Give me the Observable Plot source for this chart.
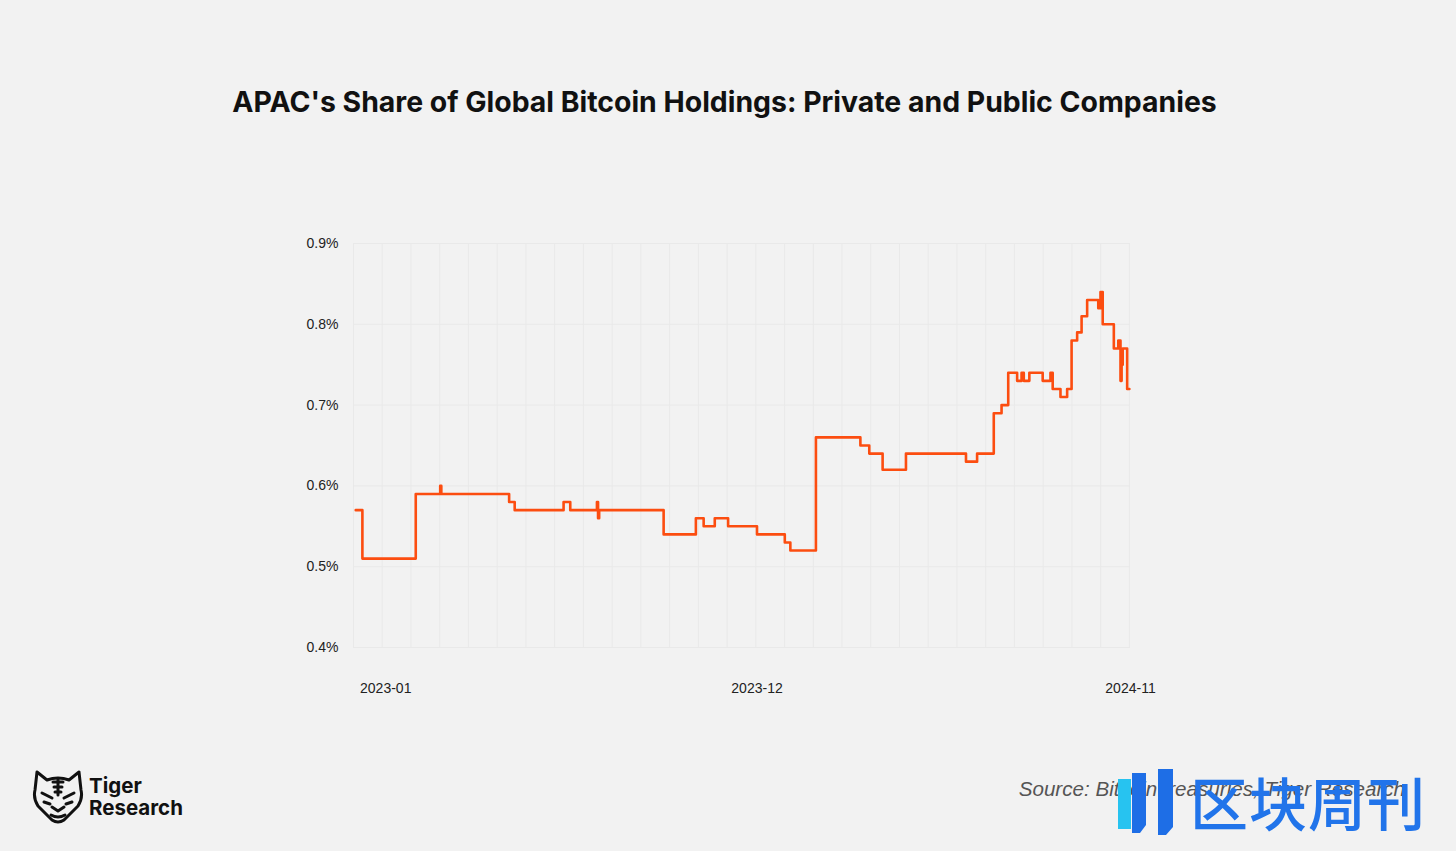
<!DOCTYPE html>
<html>
<head>
<meta charset="utf-8">
<script src="https://cdn.jsdelivr.net/npm/d3@7"></script>
<script src="https://cdn.jsdelivr.net/npm/@observablehq/plot@0.6"></script>
<style>
  html, body { margin: 0; padding: 0; }
  body { background: #f2f2f2; width: 1456px; height: 851px; overflow: hidden; position: relative; font-family: Inter, "Noto Sans", sans-serif; }
  #title { position: absolute; left: 0; top: 84px; width: 1449px; text-align: center; font-weight: 700; font-size: 28.4px; color: #111; }
  #chart { position: absolute; left: 0; top: 150px; }
  #logo { position: absolute; left: 32px; top: 769px; display: flex; align-items: center; }
  #logo .name { margin-left: 5px; font-family: Inter, sans-serif; font-weight: 700; font-size: 20.5px; line-height: 22.5px; color: #111; }
  #source { position: absolute; right: 51px; top: 777px; font-family: "Liberation Sans", Arial, sans-serif; font-style: italic; font-size: 20.6px; color: #555; }
  #wm { position: absolute; left: 1116px; top: 766px; display: flex; align-items: center; }
  #wm .txt { font-family: "Noto Sans CJK SC", sans-serif; font-weight: 500; font-size: 58px; line-height: 64px; color: #2174ea; margin-left: 14px; letter-spacing: 1px; }
</style>
</head>
<body>
<div id="title">APAC's Share of Global Bitcoin Holdings: Private and Public Companies</div>
<div id="chart"></div>
<div id="logo">
  <svg width="52" height="56" viewBox="0 0 52 56" fill="none" stroke="#111" stroke-width="3" stroke-linejoin="round" stroke-linecap="round">
    <path d="M5 3 L15 11 Q26 7 37 11 L47 3 L49 21 Q51 29 46 37 L32 51 Q26 55 20 51 L6 37 Q1 29 3 21 Z"/>
    <path d="M26 10 L26 26 M21 13 L31 13 M22 18 L30 18 M23 23 L29 23"/>
    <path d="M10 24 L20 29 M42 24 L32 29"/>
    <path d="M12 33 L18 35 M40 33 L34 35"/>
    <path d="M20 38 L26 42 L32 38"/>
    <path d="M19 46 Q26 50 33 46"/>
  </svg>
  <div class="name">Tiger<br>Research</div>
</div>
<div id="source">Source: BitcoinTreasuries, Tiger Research</div>
<div id="wm">
  <svg width="60" height="70" viewBox="0 0 60 70">
    <rect x="2" y="13" width="13" height="50" fill="#27c3f0"/>
    <path d="M16 7 L30 7 L30 59 L24 67 L16 67 Z" fill="#1e6ee6"/>
    <path d="M42 3 L57 3 L57 61 L50 69 L42 69 Z" fill="#1e6ee6"/>
  </svg>
  <div class="txt">区块周刊</div>
</div>
<script>
// ---- data (change points of a daily step series) ----
const dates = [
  "2022-12-05","2022-12-11","2023-01-28","2023-02-19","2023-02-20","2023-04-22","2023-04-27",
  "2023-06-10","2023-06-16","2023-07-10","2023-07-11","2023-07-12","2023-09-08","2023-10-07",
  "2023-10-14","2023-10-24","2023-11-05","2023-12-01","2023-12-26","2023-12-31","2024-01-23",
  "2024-03-03","2024-03-11","2024-03-23","2024-04-13","2024-06-06","2024-06-16","2024-07-01",
  "2024-07-08","2024-07-14","2024-07-22","2024-07-26","2024-07-28","2024-08-02","2024-08-14",
  "2024-08-21","2024-08-23","2024-08-30","2024-09-05","2024-09-09","2024-09-14","2024-09-18",
  "2024-09-23","2024-10-03","2024-10-05","2024-10-07","2024-10-17","2024-10-21","2024-10-23",
  "2024-10-24","2024-10-25","2024-10-29","2024-10-31"
];
const shares = [
  0.57, 0.51, 0.59, 0.60, 0.59, 0.58, 0.57,
  0.58, 0.57, 0.58, 0.56, 0.57, 0.54, 0.56,
  0.55, 0.56, 0.55, 0.54, 0.53, 0.52, 0.66,
  0.65, 0.64, 0.62, 0.64, 0.63, 0.64, 0.69,
  0.70, 0.74, 0.73, 0.74, 0.73, 0.74, 0.73,
  0.74, 0.72, 0.71, 0.72, 0.78, 0.79, 0.81,
  0.83, 0.82, 0.84, 0.80, 0.77, 0.78, 0.73,
  0.75, 0.77, 0.72, 0.72
];
const yTicks = [0.4, 0.5, 0.6, 0.7, 0.8, 0.9];
const xTickLabels = ["2023-01", "2023-12", "2024-11"];
const xDomain = ["2022-12-03", "2024-11-01"];
const gridStart = "2022-12-03", gridEnd = "2024-10-31", gridCount = 28;

const parse = d3.utcParse("%Y-%m-%d");
const parseM = d3.utcParse("%Y-%m");
const data = dates.map((d, i) => ({date: parse(d), value: shares[i]}));
const g0 = parse(gridStart), g1 = parse(gridEnd);
const gridDates = d3.range(gridCount).map(i => new Date(+g0 + (g1 - g0) * i / (gridCount - 1)));

const chart = Plot.plot({
  width: 1456,
  height: 600,
  marginTop: 93,
  marginBottom: 103,
  marginLeft: 353,
  marginRight: 326,
  style: {background: "transparent", fontFamily: "'Liberation Sans', Arial, sans-serif", fontSize: "14px", color: "#222"},
  x: {type: "utc", domain: xDomain.map(parse), label: null},
  y: {domain: [0.4, 0.9], label: null},
  marks: [
    Plot.ruleX(gridDates, {stroke: "#e9e9e9", strokeWidth: 1}),
    Plot.ruleY(yTicks, {stroke: "#e9e9e9", strokeWidth: 1}),
    Plot.line(data, {x: "date", y: "value", curve: "step-after", stroke: "#fc4d10", strokeWidth: 2.6}),
    Plot.axisX({ticks: xTickLabels.map(parseM), tickFormat: d3.utcFormat("%Y-%m"), tickSize: 0, tickPadding: 36, label: null}),
    Plot.axisY({ticks: yTicks, tickFormat: d => d.toFixed(1) + "%", tickSize: 0, tickPadding: 15, label: null})
  ]
});
document.getElementById("chart").appendChild(chart);
</script>
</body>
</html>
